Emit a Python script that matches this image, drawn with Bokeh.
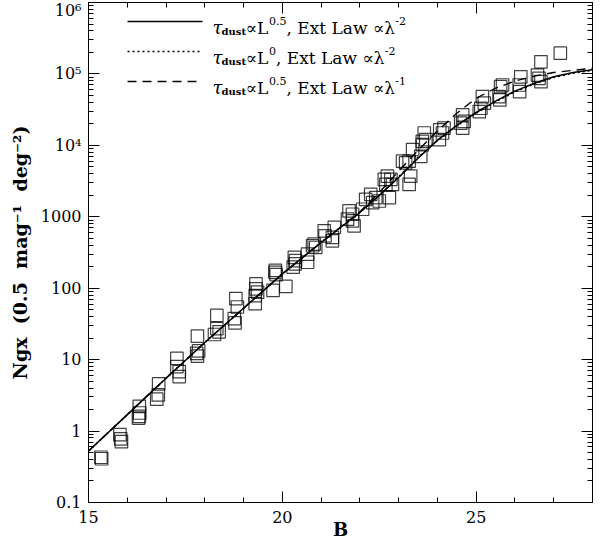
import math
import numpy as np
from bokeh.plotting import figure
from bokeh.models import (Label, Arrow, LinearAxis, LogAxis, FixedTicker,
                          CustomJSTickFormatter, Range1d)
from bokeh.embed import file_html
from bokeh.resources import INLINE

# ---------------- data ----------------
mag_B = [15.32, 15.34,
         15.81, 15.83, 15.85,
         16.31, 16.32, 16.31, 16.29,
         16.81, 16.80, 16.76,
         17.28, 17.28, 17.34, 17.34,
         17.81, 17.79, 17.81, 17.84,
         18.31, 18.31, 18.25, 18.37,
         18.80, 18.84, 18.76, 18.78,
         19.32, 19.32, 19.36, 19.30, 19.30,
         19.81, 19.84, 19.82, 19.76, 20.09,
         20.31, 20.34, 20.33, 20.28,
         20.65, 20.65,
         20.82, 20.86, 20.78,
         21.08, 21.34, 21.29, 21.29, 21.10,
         21.72, 21.81, 21.68, 21.81, 21.85, 22.07,
         22.15, 22.28, 22.41, 22.33, 22.50, 22.76,
         22.63, 22.71, 22.80, 22.84, 22.67, 23.27,
         23.10, 23.18, 23.27, 23.31,
         23.36, 23.57,
         23.66, 23.70, 23.61, 23.61, 24.06, 24.05,
         24.17, 24.13,
         24.65, 24.60, 24.65, 24.69,
         25.16, 25.12, 25.08, 25.21,
         25.63, 25.59, 25.61, 25.68,
         26.15, 26.11, 26.12,
         26.58, 26.62, 26.67, 26.67,
         27.17]
N_gx = [0.43, 0.41,
        0.89, 0.78, 0.71,
        2.22, 1.79, 1.61, 1.52,
        4.57, 3.21, 2.80,
        10.4, 7.98, 6.8, 5.8,
        21.3, 12.2, 11.2, 13.3,
        41.7, 27.2, 22.5, 24.5,
        71.3, 54.6, 37.5, 32.7,
        115, 98, 88, 79, 60.7,
        167, 155, 178, 93, 106,
        271, 243, 219, 197,
        301, 231,
        415, 373, 393,
        635, 709, 514, 461, 542,
        1208, 1086, 925, 876, 746, 1274,
        1754, 2060, 1853, 1578, 1663, 1853,
        3334, 3707, 3334, 2838, 2838, 2838,
        6000, 5690, 6000, 3707,
        8710, 7030,
        14900, 12000, 10230, 11380, 16500, 12000,
        17460, 14900,
        26700, 20500, 17460, 21600,
        48100, 33100, 29700, 38900,
        66200, 48100, 43300, 70000,
        91200, 70000, 56500,
        96400, 86700, 77800, 147600,
        195000]

model_B = [15, 16, 17, 18, 19, 20, 21, 22, 22.5, 23, 23.5, 24, 24.5, 25, 25.5, 26, 26.5, 27, 27.5, 28]
logN_solid = [-0.28, 0.23, 0.74, 1.24, 1.72, 2.20, 2.64, 3.06, 3.30, 3.55, 3.82, 4.07,
              4.28, 4.46, 4.62, 4.76, 4.87, 4.96, 5.02, 5.06]
logN_dotted = [-0.28, 0.23, 0.74, 1.24, 1.72, 2.20, 2.64, 3.06, 3.30, 3.56, 3.83, 4.07,
               4.27, 4.45, 4.61, 4.75, 4.86, 4.95, 5.01, 5.05]
logN_dashed = [-0.28, 0.23, 0.74, 1.24, 1.72, 2.20, 2.64, 3.07, 3.34, 3.64, 3.93, 4.20,
               4.45, 4.66, 4.80, 4.90, 4.97, 5.02, 5.05, 5.08]

x_major = [15, 20, 25]
x_tick_labels = ["15", "20", "25"]
y_major = [0.1, 1, 10, 100, 1000, 1e4, 1e5, 1e6]
y_tick_labels = ["0.1", "1", "10", "100", "1000", "10\u2074", "10\u2075", "10\u2076"]
x_title = "B"
NB = "\u00a0"
y_title = f"Ngx{NB}{NB}(0.5{NB}{NB}mag\u207b\u00b9{NB}{NB}deg\u207b\u00b2)"

legend_rows = [
    ("solid", "0.5", "-2"),
    ("dotted", "0", "-2"),
    ("dashed", "0.5", "-1"),
]

# ---------------- figure ----------------
FONT = "DejaVu Serif"
W, H = 593, 542
p = figure(width=W, height=H, x_range=Range1d(15, 28), y_range=Range1d(0.1, 1e6),
           y_axis_type="log", output_backend="svg", toolbar_location=None,
           min_border_left=88, min_border_right=1, min_border_top=2, min_border_bottom=40)
p.grid.visible = False
p.outline_line_color = "black"
p.outline_line_width = 1
p.background_fill_color = "white"
p.border_fill_color = "white"

x_minor = list(range(15, 29))
y_minor = [m * 10.0 ** e for e in range(-1, 6) for m in range(2, 10)]

xfmt = CustomJSTickFormatter(args=dict(xvals=x_major, xlabs=x_tick_labels),
                             code="const i = xvals.indexOf(tick); return i >= 0 ? xlabs[i] : '';")
yfmt = CustomJSTickFormatter(args=dict(ylabs=y_tick_labels),
                             code="const i = Math.round(Math.log10(tick)) + 1; return ylabs[i];")
blank = CustomJSTickFormatter(code="return '';")


def style_axis(ax, show_labels):
    ax.major_tick_in = 11
    ax.major_tick_out = 0
    ax.minor_tick_in = 5
    ax.minor_tick_out = 0
    ax.axis_line_color = "black"
    ax.major_tick_line_color = "black"
    ax.minor_tick_line_color = "black"
    ax.major_label_text_font = FONT
    ax.major_label_text_color = "black"
    if show_labels:
        ax.major_label_text_font_size = "16px"
    else:
        ax.major_label_text_font_size = "0px"
        ax.major_label_standoff = 0


xa = p.xaxis[0]
xa.ticker = FixedTicker(ticks=x_major, minor_ticks=x_minor)
xa.formatter = xfmt
style_axis(xa, True)
xa.major_label_standoff = 8
xa.axis_label = x_title
xa.axis_label_text_font = FONT
xa.axis_label_text_font_size = "18px"
xa.axis_label_text_font_style = "bold"
xa.axis_label_text_color = "black"
xa.axis_label_standoff = -7

ya = p.yaxis[0]
ya.ticker = FixedTicker(ticks=y_major, minor_ticks=y_minor)
ya.formatter = yfmt
style_axis(ya, True)
ya.major_label_standoff = 7
ya.axis_label = y_title
ya.axis_label_text_font = FONT
ya.axis_label_text_font_size = "19px"
ya.axis_label_text_font_style = "bold"
ya.axis_label_text_color = "black"
ya.axis_label_standoff = 7

top = LinearAxis(ticker=FixedTicker(ticks=x_major, minor_ticks=x_minor), formatter=blank)
style_axis(top, False)
p.add_layout(top, "above")
right = LogAxis(ticker=FixedTicker(ticks=y_major, minor_ticks=y_minor), formatter=blank)
style_axis(right, False)
p.add_layout(right, "right")

# ---------------- marks ----------------
p.scatter(mag_B, N_gx, marker="square", size=12.5, fill_color=None,
          line_color="black", line_alpha=0.75, line_width=1.2)
p.line(model_B, [10 ** v for v in logN_dotted], line_color="black", line_width=1.5, line_dash="2 3")
p.line(model_B, [10 ** v for v in logN_dashed], line_color="black", line_width=1.4, line_dash="9 6")
p.line(model_B, [10 ** v for v in logN_solid], line_color="black", line_width=1.5)

# ---------------- legend (frame-relative screen px) ----------------
FRAME_LEFT, FRAME_BOTTOM = 96, 510   # page pixel position of frame corner


def fx(px):
    return px - FRAME_LEFT


def fy(py):
    return FRAME_BOTTOM - py


EM = {' ': 0.318, '.': 0.318, ',': 0.318, 'E': 0.73, 'x': 0.645, 't': 0.402, 'L': 0.60,
      'a': 0.596, 'w': 0.856, 'd': 0.640, 'u': 0.644, 's': 0.514, 'g': 0.640, 'm': 0.948,
      'e': 0.592, 'N': 0.812, '(': 0.390, ')': 0.390, '-': 0.338, '\u221d': 0.78,
      '\u03bb': 0.52, '\u03c4': 0.50, 'B': 0.74}


def tw(s, size, bold):
    w = sum(EM.get(c, 0.636) for c in s) * size
    return w * (1.09 if bold else 1.0)


def run(pieces, x0, y0):
    pos = x0
    for text, size, shift, style in pieces:
        lab = Label(x=pos, y=y0 + shift, x_units="screen", y_units="screen", text=text,
                    text_font=FONT, text_font_size=f"{size}px", text_font_style=style,
                    text_color="black", text_align="left", text_baseline="alphabetic")
        p.add_layout(lab)
        pos += tw(text, size, "bold" in style)


row_y = [29, 59, 89]
dashes = {"solid": "solid", "dotted": "2 3", "dashed": "9 6"}
for (style, lexp, wexp), ry in zip(legend_rows, row_y):
    p.add_layout(Arrow(end=None, x_start=fx(135), y_start=fy(ry), x_end=fx(210), y_end=fy(ry),
                       start_units="screen", end_units="screen", line_color="black",
                       line_width=1.4, line_dash=dashes[style]))
    base = fy(ry) - 6
    run([("\u03c4", 18, 0, "italic"), ("dust", 10, -4, "bold"), ("\u221dL", 17, 0, "normal"),
         (lexp, 11, 7, "normal"), (", Ext Law \u221d\u03bb", 17, 0, "normal"),
         (wexp, 11, 7, "normal")], fx(220), base)

open("out.html", "w").write(file_html(p, INLINE))
